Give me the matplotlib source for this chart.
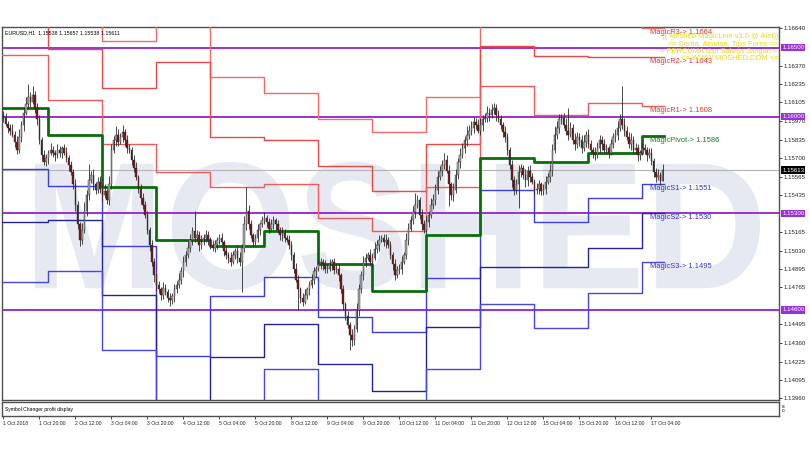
import matplotlib
matplotlib.use("Agg")
import matplotlib.pyplot as plt
import numpy as np
from matplotlib.textpath import TextPath
from matplotlib.patches import PathPatch
from matplotlib.font_manager import FontProperties
from matplotlib.transforms import Affine2D

# ---------------- data ----------------
BASE = 1.14  # closes / levels given in pips above 1.1400
closes_pips = [
    199,195,192,190,187,182,176,185,194,203,209,214,211,216,206,198,
    183,172,167,170,174,176,174,172,176,174,177,174,170,165,160,151,
    136,122,111,118,132,143,154,158,151,147,153,148,143,146,140,151,
    176,183,187,182,185,189,183,177,176,169,163,156,148,141,136,129,
    118,107,95,85,78,75,71,76,73,69,67,70,75,78,82,88,
    95,100,105,111,117,112,114,107,109,112,114,111,107,105,108,111,
    112,109,103,100,98,95,100,103,98,95,105,122,132,122,114,109,
    112,118,122,125,127,124,119,122,125,122,118,114,116,112,111,107,
    100,90,82,75,69,66,71,75,78,82,88,90,93,95,93,90,
    90,93,95,89,90,85,75,64,56,49,42,38,46,60,75,85,
    95,98,100,95,98,104,107,111,112,109,111,107,100,93,85,89,
    90,95,100,111,119,125,131,136,140,129,122,118,124,129,136,140,
    147,156,161,165,169,161,151,143,147,158,167,172,177,183,187,190,
    192,196,194,190,194,198,199,203,201,205,206,201,198,194,189,185,
    176,165,154,147,151,160,163,158,154,161,156,153,147,148,151,146,
    148,153,156,161,176,187,192,198,199,194,190,187,192,183,180,185,
    183,177,182,187,180,176,174,172,177,183,180,176,177,174,180,185,
    187,192,198,194,190,185,180,183,176,177,172,174,177,176,172,174,
    168,160,156,158,153.8,161.1,
]
first_open_pips = 201
up_wick = [
    3,4,2,3,5,3,4,6,3,4,5,10,4,6,3,4,
    3,2,4,3,2,5,3,2,4,3,2,3,4,2,3,2,
    4,3,2,5,6,4,12,3,4,2,3,4,3,5,2,6,
    4,3,6,4,3,5,2,4,3,2,3,4,2,3,4,3,
    3,2,4,3,2,3,2,4,3,2,3,2,4,3,5,3,
    4,3,5,4,3,15,4,3,5,3,4,3,2,4,3,2,
    3,4,2,3,2,4,3,2,3,4,3,6,17,4,3,2,
    3,4,2,3,4,2,3,4,3,2,3,2,4,3,2,3,
    3,2,4,3,2,3,4,2,3,4,3,2,4,3,2,3,
    3,4,2,3,4,3,2,3,2,3,2,4,3,5,4,3,
    4,3,2,4,3,5,4,3,2,3,4,2,3,2,4,3,
    3,4,2,5,4,3,4,9,3,2,4,3,4,3,5,4,
    4,5,3,4,5,3,4,2,5,4,3,5,4,3,6,4,
    5,4,3,4,5,3,4,5,3,4,4,3,4,3,2,4,
    3,2,4,3,4,5,3,2,4,3,4,3,2,4,3,2,
    3,4,3,5,4,6,5,4,3,4,5,16,4,3,5,4,
    3,4,5,3,4,3,2,4,5,4,3,4,3,2,4,3,
    4,5,4,24,5,3,4,5,3,4,3,2,4,3,2,3,
    3,2,3,4,2,4.6,
]
dn_wick = [
    3,2,4,3,2,4,3,2,3,4,2,3,4,2,3,4,
    3,4,2,3,4,2,3,4,2,3,4,2,3,4,2,3,
    4,3,5,3,2,4,3,2,4,3,2,3,4,2,3,4,
    3,2,4,3,2,3,4,3,2,4,3,2,3,4,3,2,
    3,4,3,5,4,3,4,3,2,3,4,3,4,3,2,3,
    4,3,2,3,4,3,2,4,3,2,3,4,3,2,3,4,
    3,2,4,3,4,3,2,3,4,3,22,3,4,3,2,3,
    2,3,4,2,3,4,3,2,3,4,2,3,4,3,2,3,
    4,3,2,15,4,3,2,3,4,2,3,4,2,3,4,3,
    3,2,4,3,2,4,3,4,3,2,11,4,3,2,4,3,
    3,4,2,3,4,2,3,4,2,3,4,2,3,4,3,2,
    3,4,2,3,4,2,3,4,2,3,4,2,3,4,2,3,
    4,3,2,4,3,2,16,3,4,2,3,4,2,3,4,3,
    3,4,3,2,3,4,2,3,4,2,3,4,2,3,4,3,
    4,3,5,4,3,17,4,3,5,4,3,2,4,3,4,3,
    3,4,2,3,4,2,3,4,3,2,3,4,2,3,4,3,
    4,3,2,4,3,2,4,3,2,3,4,2,3,4,2,3,
    3,4,2,3,4,2,3,4,2,3,4,3,2,3,4,2,
    3,4,3,2,3,0,
]

# daily MagicLine levels (pips above 1.1400), one value per trading day
day_labels = ["1 Oct", "2 Oct", "3 Oct", "4 Oct", "5 Oct", "8 Oct", "9 Oct",
              "10 Oct", "11 Oct", "12 Oct", "15 Oct", "16 Oct", "17 Oct"]
pivot = [206, 187, 149, 111, 106, 117, 93, 74, 114, 170, 167, 174, 186]
r1 = [245, 212, 180, 160, 149, 151, 127, 117, 149, 222, 201, 210, 208]
r2 = [289, 249, 221, 240, 185, 183, 164, 146, 180, 251, 244, 243, 243]
r3 = [327, 275, 255, 293, 229, 217, 198, 189, 214, 303, 277, 279, 264]
s1 = [162, 150, 106, 27, 70, 84, 55, 44, 83, 147, 124, 141, 151]
s2 = [124, 125, 71, -23, 26, 50, 21, 1, 48, 91, 91, 105, 130]
s3 = [80, 88, 31, -106, -10, 17, -17, -28, 17, 64, 47, 72, 95]

round_levels = [1.16500, 1.16000, 1.15300, 1.14600]
last_price = 1.15613
yticks = [1.16640, 1.16370, 1.16235, 1.16105, 1.15970, 1.15835, 1.15700,
          1.15565, 1.15435, 1.15165, 1.15030, 1.14895, 1.14765, 1.14495,
          1.14360, 1.14225, 1.14095, 1.13960]
xtick_labels = ["1 Oct 2018", "1 Oct 20:00", "2 Oct 12:00", "3 Oct 04:00",
                "3 Oct 20:00", "4 Oct 12:00", "5 Oct 04:00", "5 Oct 20:00",
                "8 Oct 12:00", "9 Oct 04:00", "9 Oct 20:00", "10 Oct 12:00",
                "11 Oct 04:00", "11 Oct 20:00", "12 Oct 12:00", "15 Oct 04:00",
                "15 Oct 20:00", "16 Oct 12:00", "17 Oct 04:00"]
header = "EURUSD,H1  1.15538 1.15657 1.15538 1.15611"
info_lines = ["(( Moshed MagicLine v3.0 @ Alef))",
              "<= Berita, Analisa, Tips Forex =>",
              "= PERCUMA dan Sahaja Jangan =",
              "<= WWW.MOSHED.COM <="]

# ---------------- derived ----------------
closes = BASE + np.array(closes_pips) / 1e4
opens = np.concatenate([[BASE + first_open_pips / 1e4], closes[:-1]])
highs = np.maximum(opens, closes) + np.array(up_wick) / 1e4
lows = np.minimum(opens, closes) - np.array(dn_wick) / 1e4
n = len(closes)
bars = np.arange(n)

bars_per_day = 24
first_day_start = -4
day_starts = [first_day_start + bars_per_day * i for i in range(len(day_labels))]
line_end = n - 0.5

def lv(arr):
    return BASE + np.array(arr, dtype=float) / 1e4

SMALL = ["Liberation Sans", "DejaVu Sans"]

# ---------------- figure ----------------
W, H = 810, 450
fig = plt.figure(figsize=(W / 100, H / 100), dpi=100, facecolor="white")
L, R, T, B = 2, 779, 27, 400
ax = fig.add_axes([L / W, 1 - B / H, (R - L) / W, (B - T) / H])
ax.set_facecolor("white")
ymin, ymax = 1.13948, 1.16650
xmin, xmax = -0.6, 344.7

# watermark
fp = FontProperties(family="Liberation Sans", weight="bold")
tp = TextPath((0, 0), "MOSHED", size=100, prop=fp)
ext = tp.get_extents()
x0, x1 = 35 / W, 760 / W
y0, y1 = 1 - 290 / H, 1 - 162 / H
trf = Affine2D().translate(-ext.x0, -ext.y0).scale((x1 - x0) / ext.width,
                                                   (y1 - y0) / ext.height).translate(x0, y0)
wm = PathPatch(trf.transform_path(tp), facecolor="#e6e9f1", edgecolor="none",
               transform=fig.transFigure, zorder=0.5)
ax.add_patch(wm)

# round-number lines and current price line
for lvl in round_levels:
    ax.axhline(lvl, color="#9a30d6", lw=1.4, zorder=2)
ax.axhline(last_price, color="#b4b4b4", lw=0.8, zorder=1.5)

# magic lines
xs = day_starts + [line_end]
def step(vals, color, lw):
    yv = lv(vals)
    ax.plot(xs, list(yv) + [yv[-1]], drawstyle="steps-post", color=color, lw=lw, zorder=3)

step(r3, "#f26a6a", 1.0)
step(r2, "#e84848", 1.0)
step(r1, "#f05a5a", 1.0)
step(s1, "#3c3ce6", 1.0)
step(s2, "#22229a", 1.0)
step(s3, "#4646e0", 1.0)
step(pivot, "#0a6e0a", 2.0)

# candles
up = closes >= opens
ax.vlines(bars, lows, highs, color="#2a2a2a", lw=0.6, zorder=4)
bw = 0.7
body_lo = np.minimum(opens, closes)
body_h = np.maximum(np.abs(closes - opens), 0.00002)
ax.bar(bars[up], body_h[up], bottom=body_lo[up], width=bw, color="#a8a8a8",
       edgecolor="#2a2a2a", linewidth=0.3, zorder=5)
ax.bar(bars[~up], body_h[~up], bottom=body_lo[~up], width=bw, color="#7c1414",
       edgecolor="#2a2a2a", linewidth=0.3, zorder=5)

ax.set_xlim(xmin, xmax)
ax.set_ylim(ymin, ymax)

# level labels
lab_x = 287.5
labels = [("MagicR3-> 1.1664", r3[-1], "#e03434"),
          ("MagicR2-> 1.1643", r2[-1], "#e03434"),
          ("MagicR1-> 1.1608", r1[-1], "#e03434"),
          ("MagicPivot-> 1.1586", pivot[-1], "#1a7a1a"),
          ("MagicS1-> 1.1551", s1[-1], "#3030d0"),
          ("MagicS2-> 1.1530", s2[-1], "#3030d0"),
          ("MagicS3-> 1.1495", s3[-1], "#3030d0")]
for txt, v, c in labels:
    ax.text(lab_x, BASE + v / 1e4 - 0.00008, txt, color=c, fontsize=5.4,
            family=SMALL, va="top", ha="left", zorder=6)

# header and info text
ax.text(0.004, 0.99, header, transform=ax.transAxes, fontsize=3.8, va="top",
        ha="left", color="black", zorder=7, family=SMALL)
for i, t in enumerate(info_lines):
    fig.text(778 / W, 1 - (37 + 7.3 * i) / H, t, fontsize=5.4, color="#e8dc10",
             ha="right", va="center", zorder=7, family=SMALL)

# axis styling
for sp in ax.spines.values():
    sp.set_color("#505050")
    sp.set_linewidth(1.0)
ax.set_xticks([])
ax.yaxis.tick_right()
ax.set_yticks(yticks)
ax.set_yticklabels([f"{v:.5f}" for v in yticks], family=SMALL)
ax.tick_params(axis="y", labelsize=4.4, length=2, width=0.6, pad=1.5,
               colors="#222222")

def price_box(y, txt, fc):
    ax.text(1.004, (y - ymin) / (ymax - ymin), txt, transform=ax.transAxes,
            fontsize=4.4, color="white", va="center", ha="left", zorder=8,
            family=SMALL,
            bbox=dict(boxstyle="square,pad=0.2", fc=fc, ec="none"))

for lvl in round_levels:
    price_box(lvl, f"{lvl:.5f}", "#9a30d6")
price_box(last_price, f"{last_price:.5f}", "#000000")

# sub-window
sub = fig.add_axes([L / W, 1 - 416 / H, (R - L) / W, 14 / H])
sub.set_xlim(xmin, xmax)
sub.set_ylim(0, 1)
sub.set_yticks([])
for sp in sub.spines.values():
    sp.set_color("#505050")
    sp.set_linewidth(1.0)
sub.text(0.004, 0.5, "Symbol Changer profit display", transform=sub.transAxes,
         fontsize=3.6, va="center", ha="left", family=SMALL)
sub.text(1.004, 0.5, "8\n0", transform=sub.transAxes, fontsize=3.2,
         va="center", ha="left", linespacing=0.8)
xt = [16 * i for i in range(len(xtick_labels))]
sub.set_xticks(xt)
sub.set_xticklabels(xtick_labels, family=SMALL)
for lab in sub.get_xticklabels():
    lab.set_horizontalalignment("left")
sub.tick_params(axis="x", labelsize=3.7, length=2.5, width=0.6, pad=1.2,
                direction="out", colors="#222222")

fig.savefig("out.png", dpi=100, facecolor="white")
